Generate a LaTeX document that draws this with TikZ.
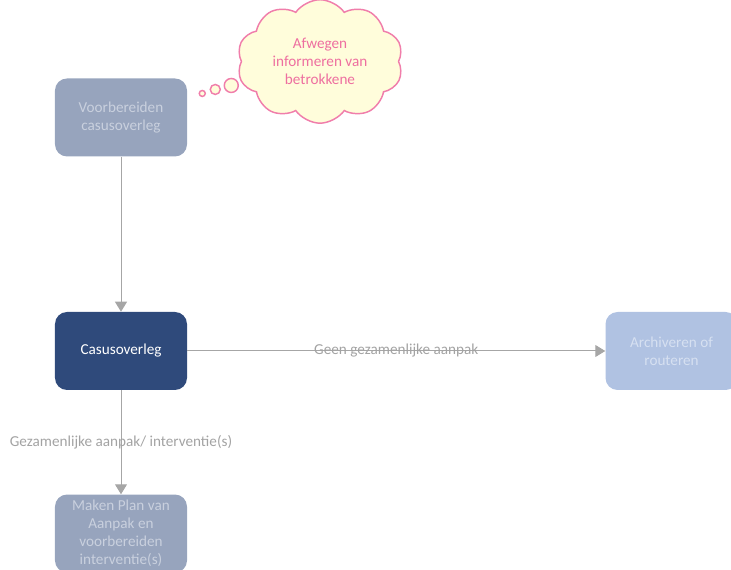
\documentclass[tikz,border=0pt]{standalone}
\usepackage{fontspec}
\setmainfont{Carlito}
\usetikzlibrary{positioning, shapes.symbols, arrows.meta}

\definecolor{prepgrey}{HTML}{97A4BD}
\definecolor{preptext}{HTML}{C9D0DE}
\definecolor{casusblue}{HTML}{2F4A7B}
\definecolor{archblue}{HTML}{B0C2E2}
\definecolor{archtext}{HTML}{D6E0F1}
\definecolor{linegrey}{HTML}{A6A6A6}
\definecolor{labelgrey}{HTML}{A3A3A3}
\definecolor{cloudpink}{HTML}{F07EAB}
\definecolor{cloudtext}{HTML}{EE6FA0}
\definecolor{cloudfill}{HTML}{FFFDDB}

\begin{document}
\begin{tikzpicture}[font=\fontsize{11.4}{13.5}\selectfont,
  box/.style={rectangle, rounded corners=9pt, minimum width=99pt, minimum height=58.5pt, align=center, inner sep=2pt},
  cloudnote/.style={cloud, cloud puffs=10, cloud puff arc=110, aspect=1.25, draw=cloudpink, fill=cloudfill, line width=1.1pt, text=cloudtext, align=center, minimum width=124.5pt, minimum height=82.5pt, inner sep=0pt},
  bubble/.style={circle, draw=cloudpink, fill=cloudfill, line width=1.1pt, inner sep=0pt},
  line/.style={draw=linegrey, line width=0.75pt, -{Triangle[length=7.5pt, width=9pt]}},
  lbl/.style={text=labelgrey, inner sep=0pt}]

  \useasboundingbox (-90.75pt,-164.25pt) rectangle (457.5pt,263.25pt);

  % Nodes
  \node[box, fill=casusblue, text=white] (casus) at (0,0) {Casusoverleg};
  \node[box, fill=prepgrey, text=preptext] (voorb) [above=116.25pt of casus] {Voorbereiden\\casusoverleg};
  \node[box, fill=prepgrey, text=preptext] (plan) [below=78pt of casus] {Maken Plan van\\Aanpak en\\voorbereiden\\interventie(s)};
  \node[box, fill=archblue, text=archtext] (archief) [right=313.5pt of casus] {Archiveren of\\routeren};
  \node[cloudnote] (afwegen) at ([shift={(149.25pt,42pt)}]voorb.center) {Afwegen\\informeren van\\betrokkene};

  % Thought bubbles
  \node[bubble, minimum size=4.5pt] (b1) at ([shift={(11.25pt,18pt)}]voorb.east) {};
  \node[bubble, minimum size=7.5pt] (b2) at ([shift={(21pt,21pt)}]voorb.east) {};
  \node[bubble, minimum size=10.5pt] (b3) at ([shift={(33pt,24pt)}]voorb.east) {};

  % Arrows
  \draw[line] (voorb) -- (casus);
  \draw[line] (casus) -- node[lbl] {Geen gezamenlijke aanpak} (archief);
  \draw[line] (casus) -- node[lbl] {Gezamenlijke aanpak/ interventie(s)} (plan);

\end{tikzpicture}
\end{document}
